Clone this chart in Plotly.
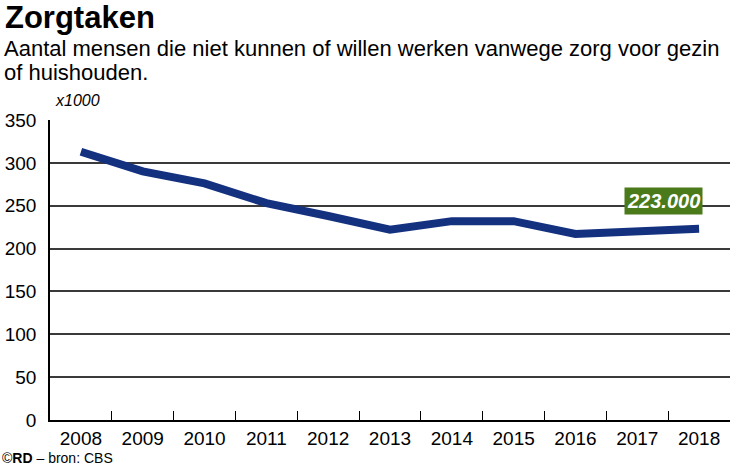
import plotly.graph_objects as go

years = ["2008", "2009", "2010", "2011", "2012", "2013", "2014", "2015", "2016", "2017", "2018"]
values = [313, 290, 276, 253, 238, 222, 232, 232, 217, 220, 223]
y_ticks = [0, 50, 100, 150, 200, 250, 300, 350]
last_label = "223.000"

L, T, W, H = 50, 120, 680, 300
def px(x):
    return (x - L) / W
def py(y):
    return (T + H - y) / H

SANS = "Liberation Sans, Arial, sans-serif"

fig = go.Figure()
fig.add_trace(go.Scatter(
    x=years, y=values, mode="lines",
    line=dict(color="#14317f", width=8),
    hoverinfo="skip",
))

fig.add_annotation(
    x=len(years) - 1, y=255, xref="x", yref="y", xshift=-36,
    text="<b><i>" + last_label + "</i></b>", showarrow=False,
    font=dict(family=SANS, size=20, color="white"),
    bgcolor="#4a7a1a", borderpad=2,
)

fig.add_annotation(x=px(3), y=py(17), xref="paper", yref="paper", xanchor="left", yanchor="middle",
                   text="<b>Zorgtaken</b>", showarrow=False,
                   font=dict(family=SANS, size=31, color="black"))
fig.add_annotation(x=px(2), y=py(48), xref="paper", yref="paper", xanchor="left", yanchor="middle",
                   text="Aantal mensen die niet kunnen of willen werken vanwege zorg voor gezin",
                   showarrow=False, align="left",
                   font=dict(family=SANS, size=22, color="black"))
fig.add_annotation(x=px(2), y=py(72), xref="paper", yref="paper", xanchor="left", yanchor="middle",
                   text="of huishouden.",
                   showarrow=False, align="left",
                   font=dict(family=SANS, size=22, color="black"))
fig.add_annotation(x=px(53), y=py(100), xref="paper", yref="paper", xanchor="left", yanchor="middle",
                   text="<i>x1000</i>", showarrow=False,
                   font=dict(family=SANS, size=16, color="black"))
fig.add_annotation(x=px(0), y=py(458), xref="paper", yref="paper", xanchor="left", yanchor="middle",
                   text="©<b>RD</b> – bron: CBS", showarrow=False,
                   font=dict(family=SANS, size=14, color="black"))

fig.update_layout(
    width=730, height=468,
    margin=dict(l=L, r=730 - L - W, t=T, b=468 - T - H),
    paper_bgcolor="white", plot_bgcolor="white",
    showlegend=False,
    xaxis=dict(
        type="category", tickson="boundaries", ticks="inside", ticklen=9,
        tickcolor="black", tickwidth=1, showgrid=False,
        showline=True, linecolor="black", linewidth=1.5,
        tickfont=dict(family=SANS, size=19, color="black"),
        range=[-0.5, 10.5], fixedrange=True,
    ),
    yaxis=dict(
        range=[0, 350], tickvals=y_ticks, showgrid=True,
        gridcolor="#3a3a3a", gridwidth=1.5,
        showline=True, linecolor="black", linewidth=1.5,
        zeroline=False, ticks="", ticklabelstandoff=8,
        tickfont=dict(family=SANS, size=19, color="black"),
        fixedrange=True,
    ),
)

fig.write_html("out.html", config={"displayModeBar": False},
               post_script="document.body.style.margin='0';")
